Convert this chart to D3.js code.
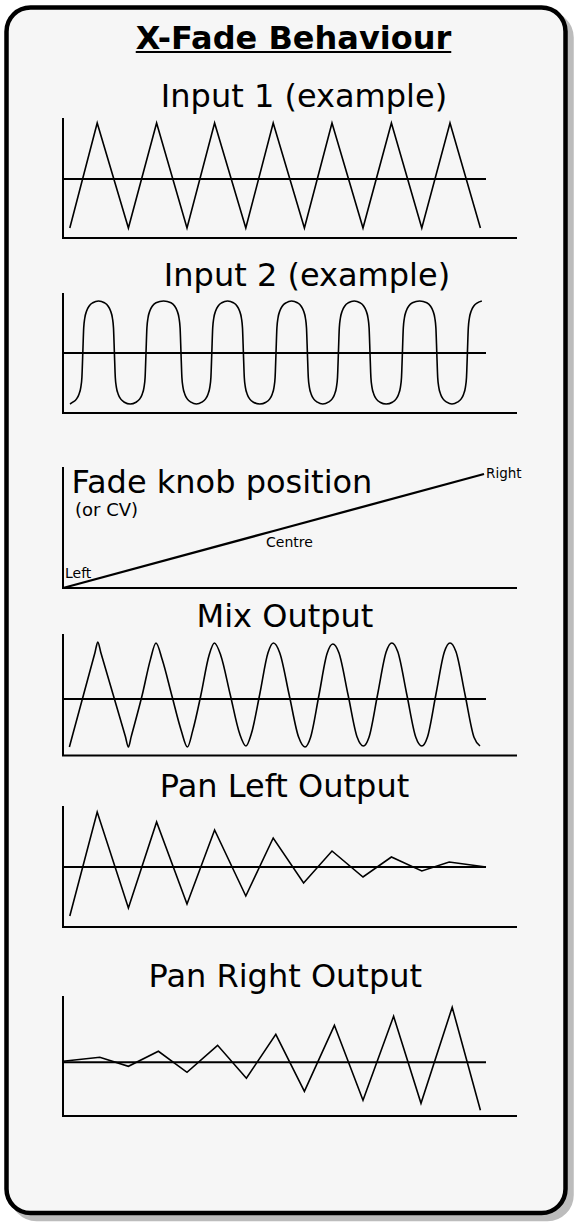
<!DOCTYPE html>
<html><head><meta charset="utf-8">
<script src="https://cdn.jsdelivr.net/npm/d3@7"></script>
<style>
body{margin:0;background:#fff}
svg{display:block}
text{font-family:"DejaVu Sans",sans-serif;fill:#000}
</style></head>
<body><svg id="c" width="575" height="1222"></svg>
<script>
// ---------- DATA ----------
const chartTitle = "X-Fade Behaviour";
const panelTitles = ["Input 1 (example)", "Input 2 (example)", "Fade knob position", "Mix Output", "Pan Left Output", "Pan Right Output"];
const knobSubtitle = "(or CV)";
const knobLabels = ["Left", "Centre", "Right"];

// time (arbitrary units) vs signal level (volts)
const timeDomain = [0, 227];
const zeroLineEnd = 211.5;
const levelDomain = [-6, 6];

const input1 = [[3.4,-4.9],[17.1,5.6],[32.7,-4.9],[46.8,5.6],[62.0,-4.9],[75.8,5.6],[91.4,-4.9],[105.1,5.6],
  [120.7,-4.9],[134.5,5.6],[150.0,-4.9],[164.2,5.6],[179.4,-4.9],[193.5,5.6],[208.7,-4.9]];

const input2 = [[3.5,-5.1],
  [4.9,-4.92],[6.7,-4.61],[8.0,-4.12],[8.9,-3.43],[9.45,-2.45],[9.9,0],[10.35,2.5],[10.9,3.5],[11.8,4.2],[13.1,4.7],[14.9,5.02],[17.8,5.2],
  [20.7,5.02],[22.5,4.7],[23.8,4.2],[24.7,3.5],[25.25,2.5],[25.7,0],[26.15,-2.45],[26.7,-3.43],[27.6,-4.12],[28.9,-4.61],[30.7,-4.92],[33.6,-5.1],
  [36.5,-4.92],[38.3,-4.61],[39.6,-4.12],[40.5,-3.43],[41.05,-2.45],[41.5,0],[41.95,2.5],[42.5,3.5],[43.4,4.2],[44.7,4.7],[46.5,5.02],[50.3,5.2],
  [54.0,5.02],[55.8,4.7],[57.1,4.2],[58.0,3.5],[58.55,2.5],[59.0,0],[59.45,-2.45],[60.0,-3.43],[60.9,-4.12],[62.2,-4.61],[64.0,-4.92],[66.7,-5.1],
  [69.4,-4.92],[71.2,-4.61],[72.5,-4.12],[73.4,-3.43],[73.95,-2.45],[74.4,0],[74.85,2.5],[75.4,3.5],[76.3,4.2],[77.6,4.7],[79.4,5.02],[82.3,5.2],
  [85.2,5.02],[87.0,4.7],[88.3,4.2],[89.2,3.5],[89.75,2.5],[90.2,0],[90.65,-2.45],[91.2,-3.43],[92.1,-4.12],[93.4,-4.61],[95.2,-4.92],[98.4,-5.1],
  [101.5,-4.92],[103.3,-4.61],[104.6,-4.12],[105.5,-3.43],[106.05,-2.45],[106.5,0],[106.95,2.5],[107.5,3.5],[108.4,4.2],[109.7,4.7],[111.5,5.02],[114.3,5.2],
  [117.2,5.02],[119.0,4.7],[120.3,4.2],[121.2,3.5],[121.75,2.5],[122.2,0],[122.65,-2.45],[123.2,-3.43],[124.1,-4.12],[125.4,-4.61],[127.2,-4.92],[129.9,-5.1],
  [132.7,-4.92],[134.5,-4.61],[135.8,-4.12],[136.7,-3.43],[137.25,-2.45],[137.7,0],[138.15,2.5],[138.7,3.5],[139.6,4.2],[140.9,4.7],[142.7,5.02],[145.6,5.2],
  [148.5,5.02],[150.3,4.7],[151.6,4.2],[152.5,3.5],[153.05,2.5],[153.5,0],[153.95,-2.45],[154.5,-3.43],[155.4,-4.12],[156.7,-4.61],[158.5,-4.92],[161.6,-5.1],
  [164.7,-4.92],[166.5,-4.61],[167.8,-4.12],[168.7,-3.43],[169.25,-2.45],[169.7,0],[170.15,2.5],[170.7,3.5],[171.6,4.2],[172.9,4.7],[174.7,5.02],[178.3,5.2],
  [181.9,5.02],[183.7,4.7],[185.0,4.2],[185.9,3.5],[186.45,2.5],[186.9,0],[187.35,-2.45],[187.9,-3.43],[188.8,-4.12],[190.1,-4.61],[191.9,-4.92],[194.5,-5.1],
  [197.2,-4.92],[199.0,-4.61],[200.3,-4.12],[201.2,-3.43],[201.75,-2.45],[202.2,0],[202.65,2.5],[203.2,3.5],[204.1,4.2],[205.4,4.7],[207.2,5.02],[209.4,5.2]];

const knob = [[0, 0], [105.25, 0.5], [210.5, 1]];

const mix = [
  [3.2,-4.8],[4.6,-3.75],[10.3,0.45],[16.0,4.65],[17.4,5.7],
  [18.9,4.65],[25.05,0.45],[31.2,-3.75],[32.7,-4.8],
  [34.1,-3.76],[39.6,0.4],[43.7,3.94],[46.5,5.6],
  [49.6,3.94],[54.35,0.4],[59.1,-3.14],[62.2,-4.8],
  [64.9,-3.14],[68.95,0.4],[73.0,4.35],[75.7,5.6],
  [78.9,4.36],[83.6,0.45],[88.3,-3.46],[91.5,-4.7],
  [94.2,-3.46],[98.35,0.45],[102.5,4.62],[105.2,5.6],
  [108.4,4.61],[113.1,0.4],[117.8,-3.81],[121.0,-4.8],
  [123.8,-3.82],[127.95,0.35],[132.0,4.52],[134.9,5.5],
  [137.95,4.63],[142.55,0.4],[147.1,-3.83],[150.2,-4.7],
  [153.0,-3.82],[157.3,0.45],[161.6,4.72],[164.4,5.6],
  [167.4,4.72],[171.9,0.45],[176.4,-3.82],[179.4,-4.7],
  [182.2,-3.82],[186.45,0.45],[190.7,4.72],[193.5,5.6],
  [196.5,4.72],[201.0,0.45],[205.5,-3.82],[208.5,-4.7]];

const panLeft = [[3.4,-4.9],[17.1,5.5],[32.7,-4.1],[46.8,4.5],[62.0,-3.7],[75.8,3.7],[91.4,-2.9],[105.1,2.9],
  [120.3,-1.6],[134.5,1.6],[150.0,-1.0],[164.2,1.0],[179.4,-0.4],[193.1,0.5],[211.5,0]];

const panRight = [[0.0,0.1],[18.4,0.5],[32.7,-0.4],[47.7,1.1],[62.0,-1.0],[77.3,1.7],[91.7,-1.6],[106.4,2.8],
  [120.7,-2.9],[135.7,3.7],[150.0,-3.8],[165.3,4.6],[179.0,-4.1],[194.6,5.5],[208.7,-4.8]];

// ---------- LAYOUT ----------
const svg = d3.select("#c");
const x = d3.scaleLinear().domain(timeDomain).range([63, 517]);

// frame + shadow
const frame = {x: 6.5, y: 7.5, w: 559, h: 1205.5, r: 24};
svg.append("rect").attr("x", frame.x + 6).attr("y", frame.y + 6).attr("width", frame.w).attr("height", frame.h)
  .attr("rx", frame.r).attr("fill", "#bcbcbc").attr("stroke", "#bcbcbc").attr("stroke-width", 4.5);
svg.append("rect").attr("x", frame.x).attr("y", frame.y).attr("width", frame.w).attr("height", frame.h)
  .attr("rx", frame.r).attr("fill", "#f6f6f6").attr("stroke", "#000").attr("stroke-width", 4.5);

// title with underline
const tcx = 293.5;
const tt = svg.append("text").attr("x", tcx).attr("y", 49).attr("text-anchor", "middle")
  .style("font-weight", "bold").style("font-size", "32px").text(chartTitle);
const tw = tt.node().getComputedTextLength();
svg.append("line").attr("x1", tcx - tw / 2).attr("x2", tcx + tw / 2).attr("y1", 52).attr("y2", 52)
  .attr("stroke", "#000").attr("stroke-width", 2);

const layout = [
  {tx: 304, ty: 106.5, anchor: "middle", top: 118, base: 238, zero: 179, data: input1, curve: d3.curveLinear},
  {tx: 307, ty: 285.5, anchor: "middle", top: 293, base: 413, zero: 353, data: input2, curve: d3.curveMonotoneX},
  {tx: 71.5, ty: 493, anchor: "start", top: 467, base: 588, zero: null, data: knob, curve: d3.curveLinear},
  {tx: 285, ty: 626.5, anchor: "middle", top: 634, base: 755.5, zero: 699, data: mix, curve: d3.curveMonotoneX},
  {tx: 284.5, ty: 797, anchor: "middle", top: 806, base: 927, zero: 867, data: panLeft, curve: d3.curveLinear},
  {tx: 285.3, ty: 987, anchor: "middle", top: 996, base: 1116, zero: 1062.3, data: panRight, curve: d3.curveLinear}
];

layout.forEach((p, i) => {
  const g = svg.append("g");
  g.append("text").attr("x", p.tx).attr("y", p.ty).attr("text-anchor", p.anchor)
    .style("font-size", "32px").text(panelTitles[i]);

  let y;
  if (p.zero === null) {
    y = d3.scaleLinear().domain([0, 1]).range([p.base, 474]);
  } else {
    y = d3.scaleLinear().domain(levelDomain).range([p.zero + 60, p.zero - 60]);
  }
  // axes
  g.append("line").attr("x1", x(0)).attr("x2", x(0)).attr("y1", p.top).attr("y2", p.base)
    .attr("stroke", "#000").attr("stroke-width", 2);
  g.append("line").attr("x1", x(0) - 1).attr("x2", x(timeDomain[1])).attr("y1", p.base).attr("y2", p.base)
    .attr("stroke", "#000").attr("stroke-width", 2);
  if (p.zero !== null) {
    g.append("line").attr("x1", x(0)).attr("x2", x(zeroLineEnd)).attr("y1", y(0)).attr("y2", y(0))
      .attr("stroke", "#000").attr("stroke-width", 1.9);
  }
  const line = d3.line().x(d => x(d[0])).y(d => y(d[1])).curve(p.curve);
  g.append("path").attr("d", line(p.data)).attr("fill", "none").attr("stroke", "#000")
    .attr("stroke-width", p.zero === null ? 2.3 : 1.6).attr("stroke-linejoin", "miter");

  if (p.zero === null) {
    g.append("text").attr("x", 75).attr("y", 516).style("font-size", "18px").text(knobSubtitle);
    const pts = p.data;
    g.append("text").attr("x", x(pts[0][0]) + 2).attr("y", y(pts[0][1]) - 10).style("font-size", "14px").text(knobLabels[0]);
    g.append("text").attr("x", x(pts[1][0]) - 7.5).attr("y", y(pts[1][1]) + 16).style("font-size", "14px").text(knobLabels[1]);
    g.append("text").attr("x", x(pts[2][0]) + 2).attr("y", y(pts[2][1]) + 3.5).style("font-size", "13.5px").text(knobLabels[2]);
  }
});
</script></body></html>
